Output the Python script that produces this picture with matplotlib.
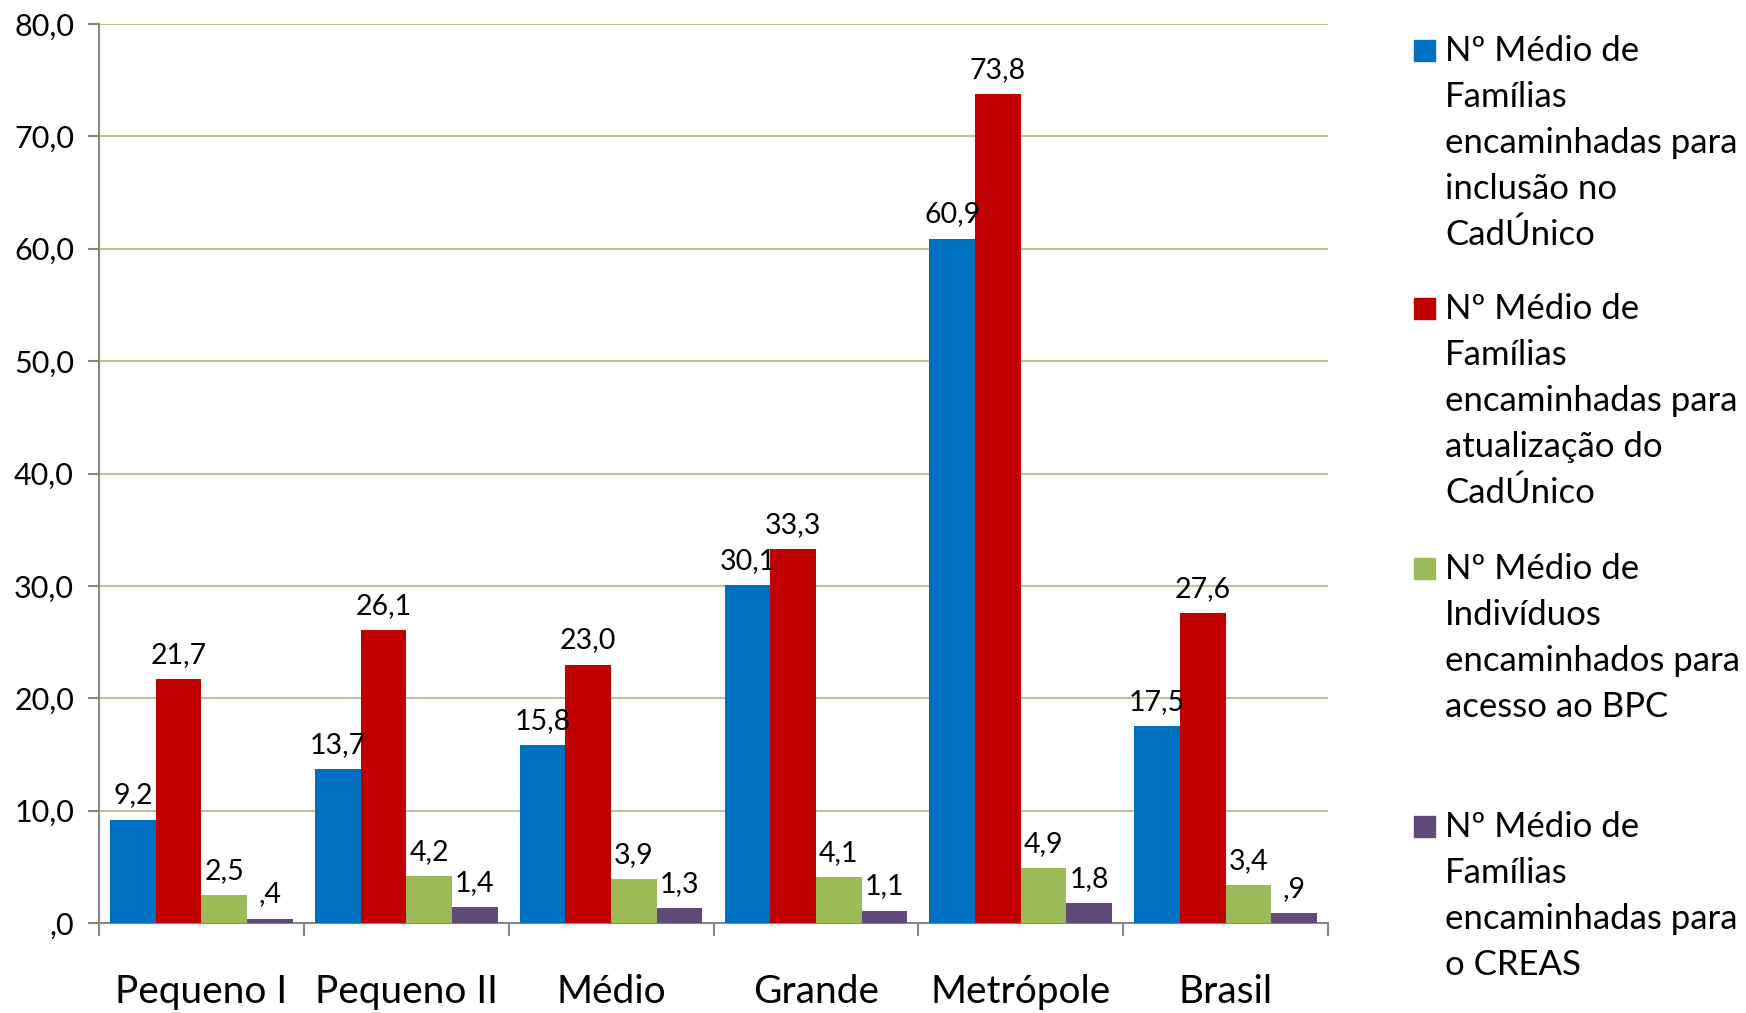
import matplotlib
matplotlib.use("Agg")
import matplotlib.pyplot as plt
from matplotlib.patches import Rectangle
from matplotlib.ticker import FixedLocator, FuncFormatter
import numpy as np

plt.rcParams['font.family'] = ['Lato', 'DejaVu Sans']

categories = ["Pequeno I", "Pequeno II", "Médio", "Grande", "Metrópole", "Brasil"]
inclusao = [9.2, 13.7, 15.8, 30.1, 60.9, 17.5]
atualizacao = [21.7, 26.1, 23.0, 33.3, 73.8, 27.6]
bpc = [2.5, 4.2, 3.9, 4.1, 4.9, 3.4]
creas = [0.4, 1.4, 1.3, 1.1, 1.8, 0.9]
series = [inclusao, atualizacao, bpc, creas]
colors = ["#0070C0", "#C00000", "#9BBB59", "#604A7B"]
legend_labels = [
    "Nº Médio de\nFamílias\nencaminhadas para\ninclusão no\nCadÚnico",
    "Nº Médio de\nFamílias\nencaminhadas para\natualização do\nCadÚnico",
    "Nº Médio de\nIndivíduos\nencaminhados para\nacesso ao BPC",
    "Nº Médio de\nFamílias\nencaminhadas para\no CREAS",
]
yticks = [0, 10, 20, 30, 40, 50, 60, 70, 80]


def fmt(v):
    s = f"{v:.1f}".replace(".", ",")
    if s.startswith("0"):
        s = s[1:]
    return s


W, H = 1746, 1013
fig = plt.figure(figsize=(W / 100, H / 100), dpi=100)
ax = fig.add_axes([99 / W, 1 - 923 / H, (1328 - 99) / W, (923 - 24) / H])

x = np.arange(len(categories))
w = 0.223
for i, (vals, c) in enumerate(zip(series, colors)):
    pos = x + (i - 1.5) * w
    ax.bar(pos, vals, width=w, color=c, zorder=3, linewidth=0)
    for px, v in zip(pos, vals):
        ax.annotate(fmt(v), (px, v), xytext=(0, 8), textcoords="offset points",
                    ha="center", va="bottom", fontsize=20.5, color="#000000", zorder=4)

ax.set_xlim(-0.5, len(categories) - 0.5)
ax.set_ylim(0, 80)
ax.set_yticks(yticks)
ax.yaxis.set_major_formatter(FuncFormatter(lambda v, p: fmt(v)))
ax.grid(axis="y", color="#C4BD97", linewidth=1.5, zorder=0)
ax.tick_params(axis="y", length=8, width=1.5, color="#868686", pad=10, labelsize=22)

ax.set_xticks(x)
ax.set_xticklabels(categories, fontsize=28)
ax.xaxis.set_minor_locator(FixedLocator(np.arange(-0.5, len(categories), 1.0)))
ax.tick_params(axis="x", which="major", length=0, pad=37)
ax.tick_params(axis="x", which="minor", length=9, width=1.5, color="#868686")

for s in ["top", "right"]:
    ax.spines[s].set_visible(False)
for s in ["left", "bottom"]:
    ax.spines[s].set_color("#868686")
    ax.spines[s].set_linewidth(1.5)

# legend drawn manually
baselines = [61, 319, 579, 837]
line_gap = 46
for lab, c, b in zip(legend_labels, colors, baselines):
    fig.patches.append(Rectangle((1414 / W, 1 - b / H), 21 / W, 21 / H,
                                 transform=fig.transFigure, color=c, figure=fig))
    for k, line in enumerate(lab.split("\n")):
        fig.text(1445 / W, 1 - (b + k * line_gap) / H, line, fontsize=25,
                 ha="left", va="baseline", color="#000000")

fig.savefig("out.png", dpi=100)
